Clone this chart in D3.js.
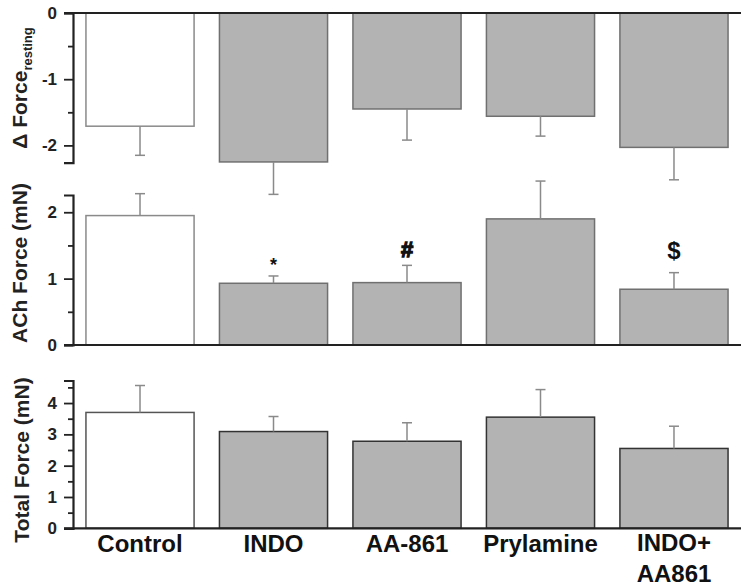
<!DOCTYPE html>
<html><head><meta charset="utf-8">
<script src="https://cdn.jsdelivr.net/npm/d3@7"></script>
<style>body{margin:0;background:#fff}svg{display:block}text{font-family:"Liberation Sans",Arial,sans-serif}</style>
</head><body><svg id="c" width="750" height="588"></svg>
<script>
const categories = ["Control","INDO","AA-861","Prylamine","INDO+AA861"];
const restingMean = [-1.71,-2.25,-1.45,-1.56,-2.03];
const restingErr  = [-2.15,-2.74,-1.92,-1.86,-2.52];
const achMean = [1.95,0.93,0.94,1.90,0.84];
const achErr  = [2.28,1.04,1.20,2.47,1.09];
const achMarks = ["","*","#","","$"];
const totalMean = [3.70,3.09,2.78,3.55,2.55];
const totalErr  = [4.56,3.57,3.37,4.43,3.26];
const restingTicks = [0,-1,-2];
const achTicks = [0,1,2];
const totalTicks = [0,1,2,3,4];

const svg = d3.select("#c");
const axisX = 73, rightX = 741;
const x = d3.scaleBand().domain(categories).range([axisX, rightX]).paddingInner(0.19).paddingOuter(0.097);

const panels = [
  {mean: restingMean, err: restingErr, dom:[0,-2.26], rng:[13,162.6], ticks:restingTicks, minor:[-0.5,-1.5], stroke:"#707070", cstroke:"#8a8a8a"},
  {mean: achMean, err: achErr, dom:[0,2.26], rng:[345,195], ticks:achTicks, minor:[0.5,1.5], stroke:"#707070", cstroke:"#8a8a8a"},
  {mean: totalMean, err: totalErr, dom:[0,4.72], rng:[528.3,380.5], ticks:totalTicks, minor:[0.5,1.5,2.5,3.5,4.5], stroke:"#333", cstroke:"#555"}
];

panels.forEach((p,pi)=>{
  const y = d3.scaleLinear().domain(p.dom).range(p.rng);
  const g = svg.append("g");
  g.selectAll("rect").data(categories).join("rect")
    .attr("x", d=>x(d))
    .attr("width", x.bandwidth())
    .attr("y", (d,i)=>Math.min(y(0), y(p.mean[i])))
    .attr("height", (d,i)=>Math.abs(y(p.mean[i])-y(0)))
    .attr("fill", (d,i)=> i===0 ? "#fff" : "#b3b3b3")
    .attr("stroke", (d,i)=> i===0 ? p.cstroke : p.stroke)
    .attr("stroke-width", 1.5);
  categories.forEach((c,i)=>{
    const cx = x(c) + x.bandwidth()/2;
    g.append("line").attr("x1",cx).attr("x2",cx).attr("y1",y(p.mean[i])).attr("y2",y(p.err[i]))
      .attr("stroke","#8a8a8a").attr("stroke-width",1.5);
    g.append("line").attr("x1",cx-5).attr("x2",cx+5).attr("y1",y(p.err[i])).attr("y2",y(p.err[i]))
      .attr("stroke","#8a8a8a").attr("stroke-width",1.5);
  });
  g.append("line").attr("x1",axisX-9).attr("x2",rightX).attr("y1",y(0)).attr("y2",y(0))
    .attr("stroke","#222").attr("stroke-width",2.2);
  const ax = g.append("g").attr("transform",`translate(${axisX},0)`)
    .call(d3.axisLeft(y).tickValues(p.ticks).tickSize(9).tickPadding(7).tickFormat(d3.format("d")));
  ax.select(".domain").attr("stroke","#222").attr("stroke-width",2.2);
  ax.selectAll(".tick line").attr("stroke","#222").attr("stroke-width",1.8);
  ax.selectAll(".tick text").attr("font-size",17).attr("font-weight","bold").attr("fill","#222")
    .attr("font-family","'Liberation Sans',Arial,sans-serif").text(d=>d<0? "-"+Math.abs(d): d);
  const mn = g.append("g").attr("transform",`translate(${axisX},0)`)
    .call(d3.axisLeft(y).tickValues(p.minor).tickSize(5).tickFormat(""));
  mn.select(".domain").remove();
  mn.selectAll(".tick line").attr("stroke","#222").attr("stroke-width",1.8);
  if(pi===1){
    categories.forEach((c,i)=>{
      if(!achMarks[i]) return;
      const cx = x(c) + x.bandwidth()/2;
      const m = achMarks[i];
      const t = g.append("text").attr("x",cx).attr("y", y(achErr[i]) - (m==="*"?5:(m==="$"?14:8)))
        .attr("text-anchor","middle").attr("font-weight","bold")
        .attr("font-size", m==="*"?18:(m==="#"?22:24)).attr("fill","#111").text(m);
      if(m==="#") t.attr("stroke","#111").attr("stroke-width",1.3);
    });
  }
});

const t1 = svg.append("text").attr("transform","translate(27,88) rotate(-90)")
  .attr("text-anchor","middle").attr("font-weight","bold").attr("font-size",21).attr("fill","#222");
t1.append("tspan").text("\u0394 Force");
t1.append("tspan").attr("font-size",13).attr("dy",5).text("resting");
svg.append("text").attr("transform","translate(27,263) rotate(-90)")
  .attr("text-anchor","middle").attr("font-weight","bold").attr("font-size",21).attr("fill","#222").text("ACh Force (mN)");
svg.append("text").attr("transform","translate(29,460) rotate(-90)")
  .attr("text-anchor","middle").attr("font-weight","bold").attr("font-size",21).attr("fill","#222").text("Total Force (mN)");

categories.forEach(c=>{
  const cx = x(c)+x.bandwidth()/2;
  const t = svg.append("text").attr("x",cx).attr("text-anchor","middle").attr("font-weight","bold")
    .attr("font-size",24).attr("fill","#111");
  if(c==="INDO+AA861"){
    t.attr("y",551);
    t.append("tspan").attr("x",cx).text("INDO+");
    t.append("tspan").attr("x",cx).attr("dy",31).text("AA861");
  } else {
    t.attr("y",552).text(c);
  }
});
</script></body></html>
